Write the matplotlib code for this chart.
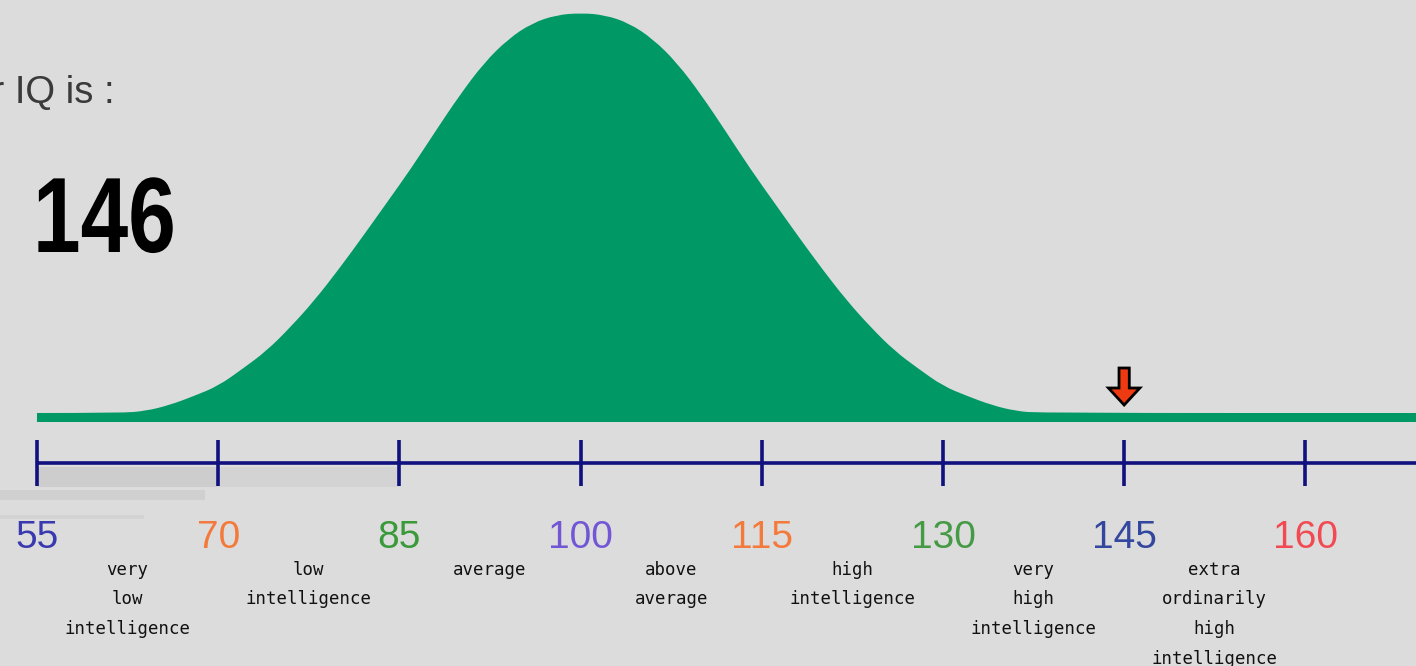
#!/usr/bin/env python3
import matplotlib
matplotlib.use("Agg")
import matplotlib.pyplot as plt
from matplotlib import font_manager
from matplotlib.font_manager import FontProperties
from matplotlib.patches import FancyArrow, Rectangle, PathPatch
from matplotlib.path import Path
from matplotlib.textpath import TextPath
from matplotlib.transforms import Affine2D, IdentityTransform

# curve: IQ value -> height (peak = 400)
curve_iq = [55, 62, 64, 66, 68, 70, 72, 74, 76, 78, 80, 82, 84, 86, 88, 90, 92, 94,
            96, 98, 100, 102, 104, 106, 108, 110, 112, 114, 116, 118, 120, 122,
            124, 126, 128, 130, 132, 134, 136, 138, 170]
curve_h = [0, 0, 2, 8, 17, 27, 44, 62, 86, 113, 144, 177, 211, 245, 282, 318, 350, 374,
           390, 398, 400, 398, 390, 374, 350, 318, 282, 245, 211, 177, 144, 113,
           86, 62, 44, 27, 17, 8, 2, 0, 0]

tick_values = [55, 70, 85, 100, 115, 130, 145, 160]
tick_colors = ["#3a3ab0", "#f47a3c", "#3a9a3a", "#7256d6",
               "#f47a3c", "#459a45", "#34479e", "#f24a52"]

band_labels = [
    ["very", "low", "intelligence"],
    ["low", "intelligence"],
    ["average"],
    ["above", "average"],
    ["high", "intelligence"],
    ["very", "high", "intelligence"],
    ["extra", "ordinarily", "high", "intelligence"],
]

score = 146
marker_iq = 145


def pick_font(names):
    for n in names:
        try:
            font_manager.findfont(n, fallback_to_default=False)
            return n
        except Exception:
            pass
    return "DejaVu Sans"


def smooth_area(xs, ys, base):
    # quadratic bezier through the midpoints of the read points
    verts = [(xs[0], base), (xs[0], ys[0])]
    codes = [Path.MOVETO, Path.LINETO]
    for i in range(1, len(xs) - 1):
        mx = (xs[i] + xs[i + 1]) / 2
        my = (ys[i] + ys[i + 1]) / 2
        verts += [(xs[i], ys[i]), (mx, my)]
        codes += [Path.CURVE3, Path.CURVE3]
    verts += [(xs[-1], ys[-1]), (xs[-1], base), (xs[0], base)]
    codes += [Path.LINETO, Path.LINETO, Path.CLOSEPOLY]
    return Path(verts, codes)


sans = pick_font(["Liberation Sans", "Arial"])

W, H = 1416, 666
fig = plt.figure(figsize=(W / 100, H / 100), dpi=100)
fig.patch.set_facecolor("#dcdcdc")
ax = fig.add_axes([0, 0, 1, 1])
ax.set_facecolor("#dcdcdc")
ax.set_xlim(51.94, 169.16)
ax.set_ylim(-253, 413)
ax.axis("off")

green = "#009966"
navy = "#10107e"

# faint grey smudges under the scale (left side)
ax.add_patch(Rectangle((55, -74), 15, 20, color="#cdcdcd", lw=0, zorder=1))
ax.add_patch(Rectangle((70, -74), 15, 20, color="#d3d3d3", lw=0, zorder=1))
ax.add_patch(Rectangle((51.9, -87), 17, 10, color="#d0d0d0", lw=0, zorder=1))
ax.add_patch(Rectangle((51.9, -106), 12, 4, color="#d3d3d3", lw=0, zorder=1))

# bell curve with its flat base strip
ax.add_patch(PathPatch(smooth_area(curve_iq, curve_h, -9), facecolor=green,
                       edgecolor="none", zorder=2))

# number line
ax.plot([tick_values[0], 170], [-50, -50], color=navy, lw=2.6, zorder=3,
        solid_capstyle="butt")
for t in tick_values:
    ax.plot([t, t], [-27, -73], color=navy, lw=2.6, zorder=3, solid_capstyle="butt")

for t, c in zip(tick_values, tick_colors):
    ax.text(t, -135, str(t), color=c, fontsize=28, family=sans,
            ha="center", va="baseline", zorder=4)

for i, lines in enumerate(band_labels):
    mid = (tick_values[i] + tick_values[i + 1]) / 2
    for j, line in enumerate(lines):
        ax.text(mid, -162 - 29.5 * j, line, color="#111111", fontsize=12.5,
                family="DejaVu Sans Mono", ha="center", va="baseline", zorder=4)

# score marker arrow
ax.add_patch(FancyArrow(marker_iq, 45, 0, -37, width=0.85, head_width=2.6,
                        head_length=17, length_includes_head=True,
                        facecolor="#ee3a10", edgecolor="black", lw=2.0, zorder=5))

ax.text(61.45, 310, "Your IQ is :", color="#3a3a3a", fontsize=27.5, family=sans,
        ha="right", va="baseline")

# condensed bold score (horizontally squeezed like the original narrow face)
tp = TextPath((0, 0), str(score), size=107,
              prop=FontProperties(family=sans, weight="bold"))
score_tf = Affine2D().scale(0.80, 1.0).translate(33, H - 252)
fig.patches.append(PathPatch(score_tf.transform_path(tp), facecolor="black",
                             edgecolor="none", transform=IdentityTransform(),
                             figure=fig))

fig.savefig("out.png", dpi=100, facecolor=fig.get_facecolor())
